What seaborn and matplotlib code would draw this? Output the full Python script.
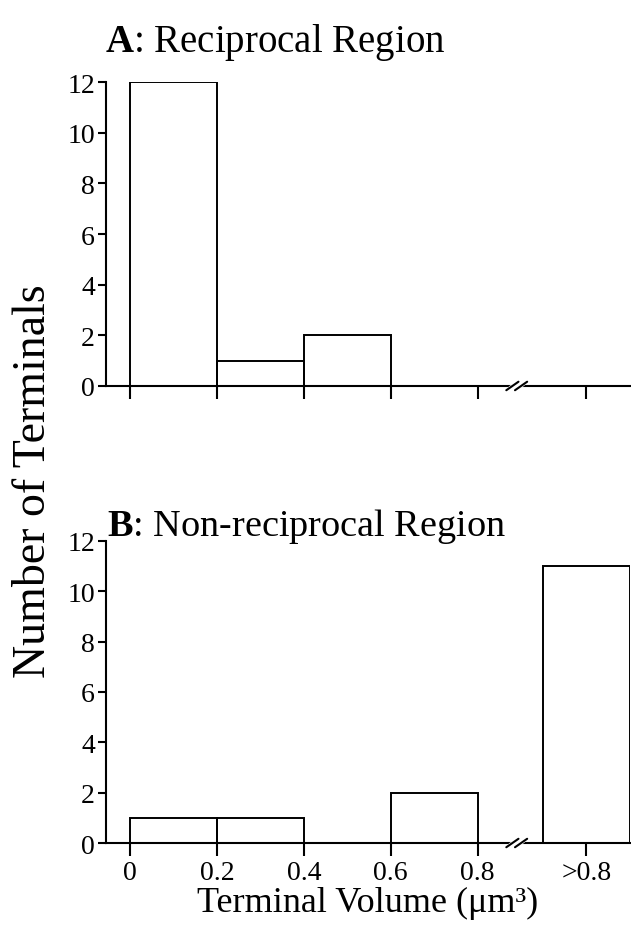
import matplotlib
matplotlib.use('Agg')
import matplotlib.pyplot as plt
import seaborn as sns
import numpy as np

# bins of terminal volume (um^3); the last bin (>0.8) sits after an axis break
bin_edges = [0.0, 0.2, 0.4, 0.6, 0.8]
over_edges = [0.95, 1.15]
tick_pos = [0.0, 0.2, 0.4, 0.6, 0.8, 1.05]
tick_labels = ['0', '0.2', '0.4', '0.6', '0.8', '>0.8']

# counts per bin: 0-0.2, 0.2-0.4, 0.4-0.6, 0.6-0.8, >0.8
reciprocal = [12, 1, 2, 0, 0]
nonreciprocal = [1, 1, 0, 2, 11]

break_pos = 0.89

sns.set_style('ticks', {'axes.edgecolor': 'black', 'xtick.color': 'black',
                        'ytick.color': 'black', 'text.color': 'black',
                        'axes.labelcolor': 'black'})
plt.rcParams['font.family'] = ['Liberation Serif', 'DejaVu Serif']
plt.rcParams['mathtext.fontset'] = 'custom'
plt.rcParams['mathtext.rm'] = 'Liberation Serif'
plt.rcParams['mathtext.bf'] = 'Liberation Serif:bold'
plt.rcParams['axes.linewidth'] = 1.5
plt.rcParams['xtick.major.width'] = 1.5
plt.rcParams['ytick.major.width'] = 1.5


def draw_panel(ax, counts, show_labels):
    centers = [(a + b) / 2 for a, b in zip(bin_edges[:-1], bin_edges[1:])]
    sns.histplot(x=centers, weights=counts[:4], bins=bin_edges, fill=False,
                 color='black', linewidth=1.4, ax=ax)
    sns.histplot(x=[np.mean(over_edges)], weights=counts[4:], bins=over_edges,
                 fill=False, color='black', linewidth=1.4, ax=ax)

    ax.set_xlim(-0.055, 1.15)
    ax.set_ylim(0, 12)
    ax.set_yticks(range(0, 13, 2))
    ax.set_xticks(tick_pos)
    if show_labels:
        ax.set_xticklabels(tick_labels)
    else:
        ax.set_xticklabels([])
    ax.tick_params(axis='x', length=9, labelsize=20, pad=3)
    ax.tick_params(axis='y', length=6, labelsize=20, pad=2)
    ax.set_xlabel('')
    ax.set_ylabel('')
    sns.despine(ax=ax)

    # axis break marks "//"
    trans = ax.get_xaxis_transform()
    ax.plot([break_pos - 0.012, break_pos + 0.012], [-0.012, 0.012],
            transform=trans, color='white', lw=6, clip_on=False, zorder=5)
    for dx in (-0.01, 0.01):
        ax.plot([break_pos + dx - 0.014, break_pos + dx + 0.014], [-0.014, 0.014],
                transform=trans, color='black', lw=1.5, clip_on=False, zorder=6)


fig = plt.figure(figsize=(6.31, 9.28), dpi=100)
ax_a = fig.add_axes([0.168, 0.583, 0.830, 0.3275])
ax_b = fig.add_axes([0.168, 0.0905, 0.830, 0.3255])

draw_panel(ax_a, reciprocal, False)
draw_panel(ax_b, nonreciprocal, True)

fig.text(105 / 631, 1 - 52 / 928, r'$\mathbf{A}$: Reciprocal Region',
         fontsize=28, va='baseline', ha='left')
fig.text(107 / 631, 1 - 536 / 928, r'$\mathbf{B}$: Non-reciprocal Region',
         fontsize=27.5, va='baseline', ha='left')

fig.text(0.054, 0.482, 'Number of Terminals', rotation=90, fontsize=33,
         ha='center', va='center')
fig.text(0.583, 1 - 912 / 928, 'Terminal Volume (μm³)', fontsize=26,
         ha='center', va='baseline')

fig.savefig('out.png', dpi=100)
